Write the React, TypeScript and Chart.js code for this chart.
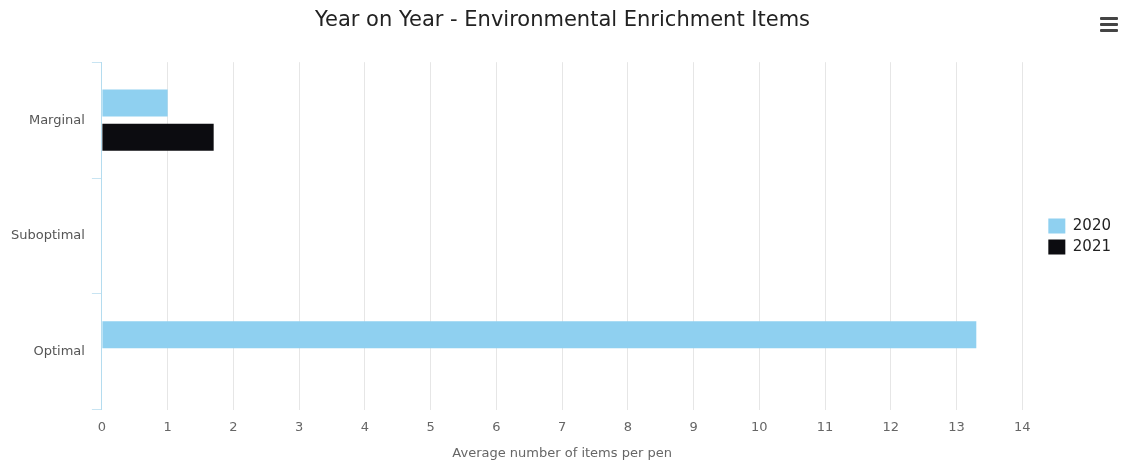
import React, { useEffect, useRef } from "react";
import { Chart, registerables } from "chart.js";

Chart.register(...registerables);

const categories = ["Marginal", "Suboptimal", "Optimal"];
const series2020 = [1, 0, 13.3];
const series2021 = [1.7, 0, 0];
const seriesLabels = ["2020", "2021"];
const xTitle = "Average number of items per pen";
const chartTitle = "Year on Year - Environmental Enrichment Items";

const FONT = "'DejaVu Sans', sans-serif";

export default function App() {
  const ref = useRef<HTMLCanvasElement | null>(null);
  useEffect(() => {
    document.body.style.margin = "0";
    const ctx = ref.current!;
    const chart = new Chart(ctx, {
      type: "bar",
      data: {
        labels: categories,
        datasets: [
          {
            label: seriesLabels[0],
            data: series2020,
            backgroundColor: "#8fd0f0",
            borderWidth: 0,
          },
          {
            label: seriesLabels[1],
            data: series2021,
            backgroundColor: "#0c0c10",
            borderWidth: 0,
          },
        ],
      },
      options: {
        indexAxis: "y",
        animation: false,
        responsive: false,
        maintainAspectRatio: false,
        categoryPercentage: 0.59,
        barPercentage: 0.79,
        layout: { padding: { left: 4, right: 3, top: 0, bottom: 2 } },
        plugins: {
          title: {
            display: true,
            text: chartTitle,
            color: "#222222",
            font: { family: FONT, size: 21, weight: "normal" },
            padding: { top: 8, bottom: 29 },
          },
          legend: {
            position: "right",
            title: {
              display: true,
              text: " ",
              font: { size: 10 },
              padding: 0,
            },
            labels: {
              boxWidth: 17,
              boxHeight: 15,
              padding: 6,
              color: "#222222",
              font: { family: FONT, size: 15, weight: "normal" },
            },
          },
          tooltip: { enabled: false },
        },
        scales: {
          x: {
            type: "linear",
            min: 0,
            max: 14,
            ticks: {
              stepSize: 1,
              color: "#666666",
              font: { family: FONT, size: 13 },
              padding: 10,
            },
            grid: { color: "#e6e6e6", drawTicks: false },
            border: { display: false },
            title: {
              display: true,
              text: xTitle,
              color: "#666666",
              font: { family: FONT, size: 13 },
              padding: { top: 0, bottom: 0 },
            },
          },
          y: {
            type: "category",
            ticks: {
              color: "#555555",
              font: { family: FONT, size: 13 },
              padding: 7,
            },
            grid: {
              offset: true,
              drawOnChartArea: false,
              drawTicks: true,
              tickLength: 10,
              color: "#c8e4f2",
            },
            border: { display: true, color: "#b4dcef", width: 1 },
          },
          gap: {
            type: "linear",
            position: "right",
            axis: "y",
            display: true,
            ticks: { display: false },
            grid: { display: false, drawTicks: false },
            border: { display: false },
            afterFit: (s: any) => {
              s.width = 20;
            },
          },
        },
      },
    });
    return () => chart.destroy();
  }, []);

  const bar = {
    position: "absolute" as const,
    left: 1100,
    width: 18,
    height: 3,
    background: "#444",
    borderRadius: 1,
  };
  return (
    <div style={{ position: "relative", width: 1124, height: 463, background: "#fff" }}>
      <canvas ref={ref} width={1124} height={463} style={{ display: "block" }} />
      <div style={{ ...bar, top: 17 }} />
      <div style={{ ...bar, top: 23 }} />
      <div style={{ ...bar, top: 29 }} />
    </div>
  );
}
